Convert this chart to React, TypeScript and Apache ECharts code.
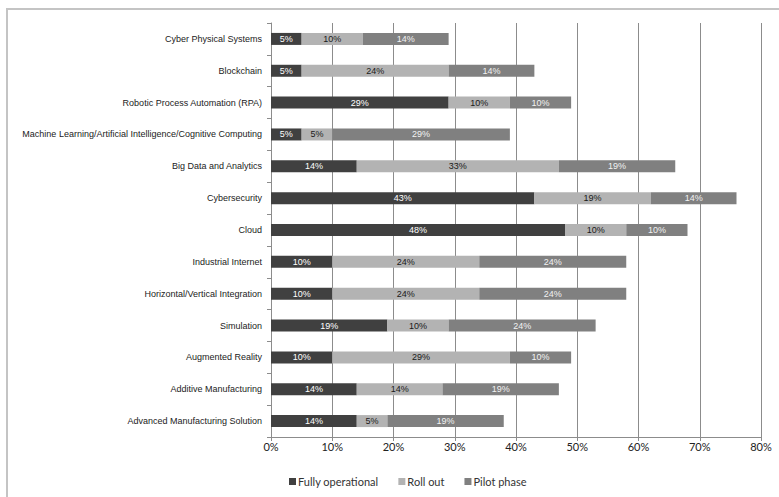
import React, { useEffect, useRef } from "react";
import * as echarts from "echarts";

const categories = [
  "Cyber Physical Systems",
  "Blockchain",
  "Robotic Process Automation (RPA)",
  "Machine Learning/Artificial Intelligence/Cognitive Computing",
  "Big Data and Analytics",
  "Cybersecurity",
  "Cloud",
  "Industrial Internet",
  "Horizontal/Vertical Integration",
  "Simulation",
  "Augmented Reality",
  "Additive Manufacturing",
  "Advanced Manufacturing Solution",
];
const fullyOperational = [5, 5, 29, 5, 14, 43, 48, 10, 10, 19, 10, 14, 14];
const rollOut = [10, 24, 10, 5, 33, 19, 10, 24, 24, 10, 29, 14, 5];
const pilotPhase = [14, 14, 10, 29, 19, 14, 10, 24, 24, 24, 10, 19, 19];
const seriesNames = ["Fully operational", "Roll out", "Pilot phase"];
const seriesColors = ["#404040", "#b3b3b3", "#808080"];
const labelColors = ["#ffffff", "#1a1a1a", "#f2f2f2"];

export default function App() {
  const ref = useRef<HTMLDivElement>(null);
  useEffect(() => {
    if (!ref.current) return;
    const chart = echarts.init(ref.current, undefined, { renderer: "svg" });
    const data = [fullyOperational, rollOut, pilotPhase];
    chart.setOption({
      animation: false,
      backgroundColor: "#ffffff",
      grid: { left: 271, right: 18, top: 23, bottom: 60, containLabel: false },
      legend: {
        left: 289,
        top: 476,
        padding: 0,
        itemWidth: 7,
        itemHeight: 7,
        itemGap: 20,
        icon: "rect",
        textStyle: { fontFamily: "Lato", fontSize: 11, color: "#333", padding: [0, 0, 0, -3] },
        data: seriesNames,
      },
      graphic: [
        {
          type: "rect",
          shape: { x: 7, y: 9, width: 900, height: 700 },
          style: { fill: "none", stroke: "#c4c4c4", lineWidth: 2 },
          silent: true,
          z: -10,
        },
      ],
      xAxis: {
        type: "value",
        min: 0,
        max: 80,
        interval: 10,
        axisLine: { show: true, lineStyle: { color: "#8c8c8c", width: 1 } },
        axisTick: { show: true, length: 4, lineStyle: { color: "#8c8c8c" } },
        splitLine: { show: true, lineStyle: { color: "#8c8c8c", width: 1 } },
        axisLabel: {
          formatter: "{value}%",
          fontFamily: "Lato",
          fontSize: 11,
          color: "#222",
          margin: 4,
        },
      },
      yAxis: {
        type: "category",
        inverse: true,
        data: categories,
        axisLine: { show: true, lineStyle: { color: "#8c8c8c", width: 1 } },
        axisTick: { show: true, length: 4, lineStyle: { color: "#8c8c8c" } },
        axisLabel: {
          fontFamily: "Liberation Sans",
          fontSize: 9,
          color: "#222",
          margin: 9,
        },
      },
      series: seriesNames.map((name, i) => ({
        name,
        type: "bar",
        stack: "total",
        barWidth: 12,
        data: data[i],
        itemStyle: { color: seriesColors[i] },
        label: {
          show: true,
          position: "inside",
          formatter: "{c}%",
          fontFamily: "Liberation Sans",
          fontSize: 9,
          color: labelColors[i],
        },
      })),
    });
    return () => chart.dispose();
  }, []);
  return <div ref={ref} style={{ width: 779, height: 497, position: "absolute", left: 0, top: 0 }} />;
}
